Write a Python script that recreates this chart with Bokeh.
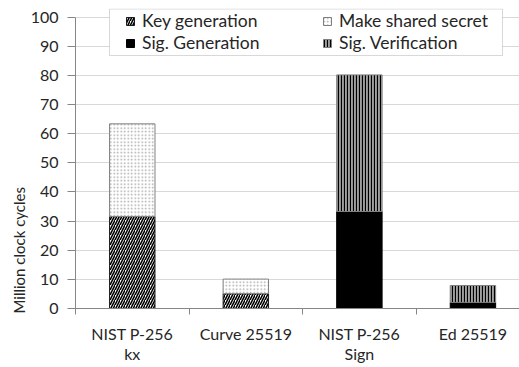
import numpy as np
from bokeh.plotting import figure
from bokeh.models import (Range1d, FixedTicker, Legend, LegendItem, LinearAxis, Title,
                          BoxAnnotation, ColumnDataSource)
from bokeh.embed import file_html
from bokeh.resources import INLINE

# ---- data ----
categories = ["NIST P-256", "Curve 25519", "NIST P-256", "Ed 25519"]
subtitles = ["kx", "", "Sign", ""]
series_names = ["Key generation", "Make shared secret", "Sig. Generation", "Sig. Verification"]
key_generation = [31.6, 5.1, 0.0, 0.0]
make_shared_secret = [31.8, 5.0, 0.0, 0.0]
sig_generation = [0.0, 0.0, 33.3, 2.1]
sig_verification = [0.0, 0.0, 46.9, 5.8]
y_ticks = [0, 10, 20, 30, 40, 50, 60, 70, 80, 90, 100]
y_title = "Million clock cycles"

FONT = "Lato"
TEXT = "#262626"
AXIS = "#868686"

p = figure(width=519, height=367, output_backend="svg", toolbar_location=None,
           x_range=Range1d(0, 3.91), y_range=Range1d(0, 103),
           min_border_left=75, min_border_right=0, min_border_top=8, min_border_bottom=59)
p.outline_line_color = None
p.background_fill_color = "white"
p.xgrid.visible = False
p.ygrid.grid_line_color = "#d9d9d9"

x = np.arange(len(categories)) + 0.5
stack = [key_generation, make_shared_secret, sig_generation, sig_verification]
styles = [
    dict(fill_color="white", hatch_pattern="right_diagonal_line", hatch_color="black",
         hatch_scale=5, hatch_weight=1.6, line_color="#1a1a1a"),
    dict(fill_color="white", hatch_pattern="dot", hatch_color="#a8a8a8", hatch_scale=3.5,
         hatch_weight=1, line_color="#7f7f7f"),
    dict(fill_color="black", line_color="black"),
    dict(fill_color="#a0a0a0", hatch_pattern="vertical_line", hatch_color="black",
         hatch_scale=3, hatch_weight=1.2, line_color="#7f7f7f"),
]
bottom = np.zeros(len(categories))
renderers = []
for name, vals, st in zip(series_names, stack, styles):
    vals = np.array(vals, dtype=float)
    mask = vals > 0
    src = ColumnDataSource(dict(x=x[mask], bottom=bottom[mask], top=(bottom + vals)[mask]))
    r = p.vbar(x="x", bottom="bottom", top="top", width=0.4, source=src, line_width=1, **st)
    renderers.append(r)
    bottom = bottom + vals

# ---- axes ----
yax = p.yaxis[0]
yax.ticker = FixedTicker(ticks=y_ticks)
yax.bounds = (0, 100)
yax.axis_line_color = AXIS
yax.major_tick_line_color = AXIS
yax.major_tick_out = 8
yax.major_tick_in = 0
yax.minor_tick_line_color = None
yax.major_label_text_font = FONT
yax.major_label_text_font_size = "16px"
yax.major_label_text_color = TEXT
yax.major_label_standoff = 9

xax = p.xaxis[0]
xax.ticker = FixedTicker(ticks=list(x), minor_ticks=list(np.arange(len(categories) + 1)))
xax.major_label_overrides = {float(v): c for v, c in zip(x, categories)}
xax.major_tick_line_color = None
xax.major_tick_out = 0
xax.major_tick_in = 0
xax.minor_tick_out = 6
xax.minor_tick_in = 0
xax.minor_tick_line_color = AXIS
xax.axis_line_color = AXIS
xax.major_label_text_font = FONT
xax.major_label_text_font_size = "16px"
xax.major_label_text_color = TEXT
xax.major_label_standoff = 9

# second line of category labels: a label-only axis below the first
sub_x = [float(xx) for xx, s in zip(x, subtitles) if s]
sub_t = [s for s in subtitles if s]
xax2 = LinearAxis(ticker=FixedTicker(ticks=sub_x, minor_ticks=[]),
                  major_label_overrides={v: t for v, t in zip(sub_x, sub_t)},
                  axis_line_color=None, major_tick_line_color=None,
                  minor_tick_line_color=None, major_tick_out=0, major_tick_in=0,
                  minor_tick_out=0, minor_tick_in=0, major_label_standoff=-2,
                  major_label_text_font=FONT, major_label_text_font_size="16px",
                  major_label_text_color=TEXT)
p.add_layout(xax2, "below")

# y axis title as a side title, starting near the bottom of the axis
p.add_layout(Title(text=y_title, align="left", offset=-5, standoff=0,
                   text_font=FONT, text_font_size="15px", text_font_style="normal",
                   text_color=TEXT), "left")

# ---- legend ----
box = BoxAnnotation(left=34, right=427, top=299.5, bottom=253,
                    left_units="screen", right_units="screen",
                    top_units="screen", bottom_units="screen",
                    fill_color="white", fill_alpha=1, line_color="#7f7f7f", line_width=1)
p.add_layout(box)

items = [LegendItem(label=n, renderers=[r]) for n, r in zip(series_names, renderers)]
common = dict(orientation="vertical", padding=0, spacing=1, label_height=20,
              glyph_height=10, glyph_width=10, label_standoff=7, margin=0,
              border_line_color=None, background_fill_alpha=0,
              label_text_font=FONT, label_text_font_size="17.5px", label_text_color=TEXT)
legA = Legend(items=[items[0], items[2]], location=(50, 255), **common)
legB = Legend(items=[items[1], items[3]], location=(247, 255), **common)
p.add_layout(legA)
p.add_layout(legB)

open("out.html", "w").write(file_html(p, INLINE))
